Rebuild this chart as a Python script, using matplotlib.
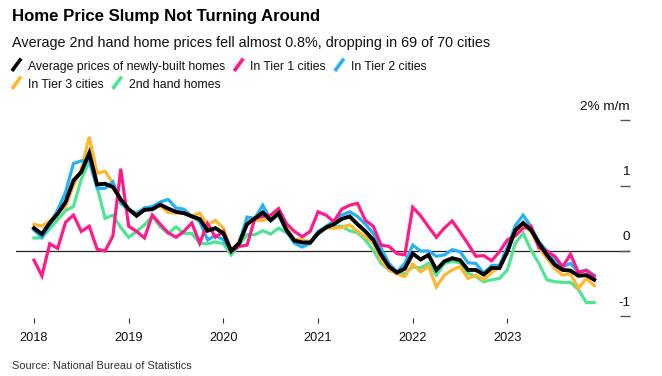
import matplotlib
matplotlib.use("Agg")
import matplotlib.pyplot as plt
from matplotlib.lines import Line2D
from matplotlib import transforms

# -------------------------------
# Data (monthly % change, Jan 2018 - Dec 2023)
# -------------------------------
years = ["2018", "2019", "2020", "2021", "2022", "2023"]

new_homes = [0.35, 0.26, 0.43, 0.57, 0.75, 1.08, 1.21, 1.50, 1.02, 1.03, 0.98, 0.79,
             0.64, 0.54, 0.63, 0.64, 0.71, 0.65, 0.60, 0.58, 0.53, 0.49, 0.31, 0.35,
             0.27, 0.00, 0.12, 0.41, 0.50, 0.59, 0.47, 0.58, 0.32, 0.16, 0.13, 0.13,
             0.27, 0.36, 0.41, 0.49, 0.53, 0.41, 0.30, 0.17, -0.06, -0.24, -0.33, -0.27,
             -0.04, -0.13, -0.06, -0.29, -0.16, -0.11, -0.14, -0.29, -0.29, -0.36, -0.26, -0.26,
             -0.01, 0.32, 0.43, 0.32, 0.12, -0.06, -0.21, -0.29, -0.30, -0.38, -0.37, -0.44]

tier1 = [-0.14, -0.38, 0.11, 0.04, 0.44, 0.55, 0.30, 0.38, 0.03, 0.00, 0.23, 1.26,
         0.38, 0.30, 0.20, 0.55, 0.41, 0.28, 0.21, 0.30, 0.43, 0.12, 0.42, 0.21,
         0.30, 0.00, 0.07, 0.09, 0.50, 0.53, 0.55, 0.65, 0.42, 0.30, 0.22, 0.30,
         0.60, 0.55, 0.45, 0.64, 0.70, 0.73, 0.47, 0.38, 0.09, 0.07, -0.04, -0.06,
         0.67, 0.54, 0.37, 0.21, 0.35, 0.46, 0.29, 0.11, -0.08, -0.07, -0.15, -0.01,
         0.17, 0.23, 0.35, 0.38, 0.05, 0.00, -0.08, -0.24, -0.05, -0.33, -0.30, -0.39]

tier2 = [0.32, 0.21, 0.41, 0.63, 0.90, 1.34, 1.38, 1.39, 0.96, 0.96, 1.06, 0.73,
         0.63, 0.58, 0.66, 0.68, 0.75, 0.79, 0.66, 0.64, 0.53, 0.45, 0.17, 0.24,
         0.17, 0.00, 0.12, 0.52, 0.50, 0.70, 0.47, 0.55, 0.30, 0.12, 0.06, 0.12,
         0.30, 0.37, 0.47, 0.55, 0.60, 0.53, 0.41, 0.27, 0.04, -0.19, -0.32, -0.19,
         0.09, 0.00, 0.00, -0.08, -0.06, 0.02, -0.01, -0.18, -0.19, -0.34, -0.22, -0.22,
         0.06, 0.39, 0.55, 0.37, 0.14, 0.00, -0.14, -0.24, -0.19, -0.32, -0.29, -0.37]

tier3 = [0.41, 0.38, 0.46, 0.59, 0.68, 1.00, 1.25, 1.75, 1.19, 1.22, 1.04, 0.75,
         0.63, 0.57, 0.66, 0.66, 0.69, 0.59, 0.58, 0.58, 0.54, 0.58, 0.40, 0.47,
         0.35, 0.01, 0.14, 0.47, 0.47, 0.47, 0.50, 0.55, 0.35, 0.18, 0.17, 0.14,
         0.27, 0.35, 0.35, 0.36, 0.40, 0.30, 0.22, 0.12, -0.14, -0.29, -0.35, -0.39,
         -0.20, -0.32, -0.23, -0.55, -0.37, -0.29, -0.24, -0.42, -0.37, -0.44, -0.33, -0.24,
         0.05, 0.27, 0.38, 0.30, 0.05, -0.11, -0.27, -0.37, -0.35, -0.57, -0.42, -0.53]

second_hand = [0.20, 0.20, 0.34, 0.48, 0.62, 0.68, 1.10, 1.37, 0.98, 0.50, 0.55, 0.36,
               0.21, 0.30, 0.40, 0.53, 0.37, 0.27, 0.37, 0.27, 0.27, 0.12, 0.11, 0.14,
               0.11, -0.06, 0.09, 0.25, 0.25, 0.31, 0.26, 0.35, 0.28, 0.18, 0.13, 0.11,
               0.27, 0.38, 0.37, 0.38, 0.31, 0.28, 0.17, 0.01, -0.19, -0.29, -0.34, -0.35,
               -0.24, -0.26, -0.19, -0.37, -0.19, -0.16, -0.18, -0.34, -0.39, -0.47, -0.44, -0.42,
               -0.29, 0.12, 0.27, 0.01, -0.19, -0.44, -0.47, -0.48, -0.48, -0.59, -0.79, -0.79]

labels = ["Average prices of newly-built homes", "In Tier 1 cities", "In Tier 2 cities",
          "In Tier 3 cities", "2nd hand homes"]
colors = ["#000000", "#ff1a8c", "#26b0f5", "#ffb82e", "#4de594"]

# -------------------------------
# Figure layout (pixel based)
# -------------------------------
W, H = 662, 376
plt.rcParams["font.family"] = ["Liberation Sans", "DejaVu Sans"]
fig = plt.figure(figsize=(W / 100, H / 100), dpi=100)

ax_left, ax_right, ax_top, ax_bottom = 16, 630, 100, 318
ax = fig.add_axes([ax_left / W, 1 - ax_bottom / H, (ax_right - ax_left) / W, (ax_bottom - ax_top) / H])

# x: month index, Jan 2018 = 0 at pixel 34, 7.89 px per month
px_month = 7.89
x0 = 34
ax.set_xlim((ax_left - x0) / px_month, (ax_right - x0) / px_month)
px_unit = 65.3
zero_y = 251
ax.set_ylim((zero_y - ax_bottom) / px_unit, (zero_y - ax_top) / px_unit)

months = list(range(len(new_homes)))
ax.plot(months, second_hand, color=colors[4], lw=2.3, solid_joinstyle="miter", zorder=2)
ax.plot(months, tier3, color=colors[3], lw=2.3, solid_joinstyle="miter", zorder=3)
ax.plot(months, tier2, color=colors[2], lw=2.3, solid_joinstyle="miter", zorder=4)
ax.plot(months, tier1, color=colors[1], lw=2.3, solid_joinstyle="miter", zorder=5)
ax.plot(months, new_homes, color=colors[0], lw=2.8, solid_joinstyle="miter", zorder=6)

ax.axhline(0, color="#222222", lw=0.9, zorder=1)

for s in ax.spines.values():
    s.set_visible(False)
ax.patch.set_visible(False)

# x ticks
ax.set_xticks([12 * k for k in range(len(years))])
ax.set_xticklabels(years)
ax.tick_params(axis="x", direction="out", length=3.6, width=0.8, color="#333333",
               pad=6.5, labelsize=9.2, labelcolor="#111111")

# right y ticks with labels above the tick marks
yt = [-1, 0, 1, 2]
ax.yaxis.tick_right()
ax.set_yticks(yt)
ax.set_yticklabels([])
ax.tick_params(axis="y", direction="in", length=7.2, width=1.0, color="#555555")
ylabs = ["-1", "0", "1", "2% m/m"]
trans = transforms.offset_copy(ax.get_yaxis_transform(), fig=fig, x=0, y=5.5, units="points")
for v, t in zip(yt, ylabs):
    ax.text(1.0, v, t, transform=trans, ha="right", va="bottom", fontsize=9.7, color="#111111")

# -------------------------------
# Titles, legend, source
# -------------------------------
def fy(py):
    return 1 - py / H

fig.text(12 / W, fy(21), "Home Price Slump Not Turning Around", fontsize=12.1,
         fontweight="bold", va="baseline", ha="left", color="#000000")
fig.text(12 / W, fy(46.5), "Average 2nd hand home prices fell almost 0.8%, dropping in 69 of 70 cities",
         fontsize=10.4, va="baseline", ha="left", color="#111111")

renderer = fig.canvas.get_renderer()
rows = [[0, 1, 2], [3, 4]]
baselines = [70, 88]
for row, base in zip(rows, baselines):
    xp = 13
    for idx in row:
        mk = Line2D([xp / W, (xp + 7) / W], [fy(base - 0.5), fy(base - 10)],
                    transform=fig.transFigure, color=colors[idx], lw=2.6)
        fig.add_artist(mk)
        t = fig.text((xp + 15) / W, fy(base), labels[idx], fontsize=8.8, va="baseline",
                     ha="left", color="#111111")
        bb = t.get_window_extent(renderer)
        xp = bb.x1 + 10

fig.text(12 / W, fy(369), "Source: National Bureau of Statistics", fontsize=7.9,
         va="baseline", ha="left", color="#333333")

fig.savefig("out.png", dpi=100)
